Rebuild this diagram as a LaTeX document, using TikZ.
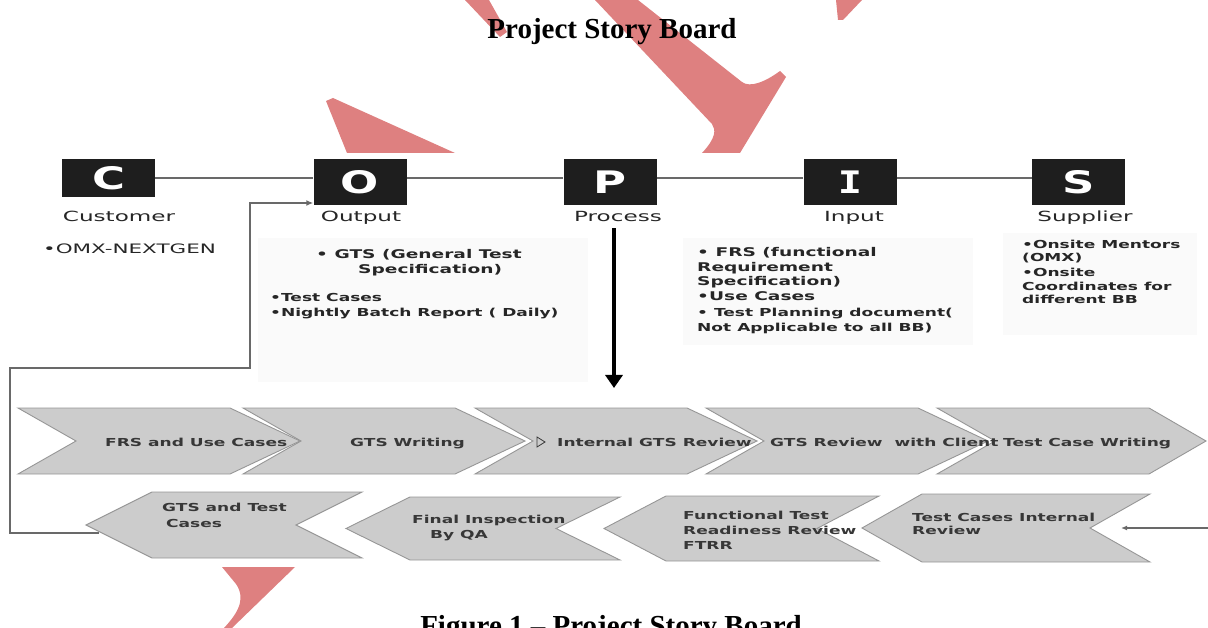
\documentclass[tikz,border=0pt]{standalone}
\usepackage{fontspec}
\setmainfont{Liberation Serif}
\newfontfamily\labf{DejaVu Sans}[FakeStretch=1.65]
\newfontfamily\txtf{DejaVu Sans}[FakeStretch=1.55]
\newfontfamily\letf{DejaVu Sans}[FakeStretch=1.45]
\newfontfamily\letm{DejaVu Sans Mono}[FakeStretch=1.3]
\usetikzlibrary{arrows.meta}
\definecolor{wmc}{RGB}{222,128,128}
\definecolor{boxc}{RGB}{30,30,30}
\definecolor{chevf}{RGB}{204,204,204}
\definecolor{chevd}{RGB}{150,150,150}
\definecolor{linec}{RGB}{105,105,105}
\definecolor{faint}{RGB}{250,250,250}
\definecolor{ctext}{RGB}{55,55,55}
\tikzset{
  wm/.style={fill=wmc, draw=none},
  faintbox/.style={fill=faint, draw=none},
  lbox/.style={fill=boxc, text=white, inner sep=0pt, minimum width=93pt, minimum height=46pt,
    font=\letf\bfseries\fontsize{31}{31}\selectfont},
  lab/.style={font=\labf\fontsize{14}{16}\selectfont, text=black!85, inner sep=0pt, anchor=base},
  treg/.style={font=\labf\fontsize{13}{15}\selectfont, text=black!85, inner sep=0pt, anchor=base west},
  tb/.style={font=\txtf\bfseries\fontsize{11}{13}\selectfont, text=black!85, inner sep=0pt, anchor=base west},
  tbl/.style={tb, font=\txtf\bfseries\fontsize{12}{14}\selectfont},
  ct/.style={tb, text=ctext},
  chev/.style={fill=chevf, draw=chevd, line width=0.9pt, line join=miter},
  conn/.style={draw=linec, line width=1.6pt},
  title/.style={font=\bfseries\fontsize{29}{34}\selectfont, inner sep=0pt, anchor=base},
}
% right-pointing chevron: name, left x, top y, bottom y, tip depth
\newcommand\chevR[5]{%
  \path[chev] (#2,#3) -- ({#2+212},#3) -- ({#2+212+#5},{(#3+#4)/2}) -- ({#2+212},#4) -- (#2,#4) -- ({#2+58},{(#3+#4)/2}) -- cycle;
  \coordinate (#1) at ({#2+106},{(#3+#4)/2});}
% left-pointing chevron: name, left x, right x, top y, bottom y, depth
\newcommand\chevL[6]{%
  \path[chev] (#2,#4) -- (#3,#4) -- ({#3-#6},{(#4+#5)/2}) -- (#3,#5) -- (#2,#5) -- ({#2-#6},{(#4+#5)/2}) -- cycle;
  \coordinate (#1-tip) at ({#2-#6},{(#4+#5)/2});
  \coordinate (#1-notch) at ({#3-#6},{(#4+#5)/2});}
\begin{document}
\begin{tikzpicture}[x=1pt,y=-1pt]
\useasboundingbox (0,0) rectangle (1208,628);
\clip (0,0) rectangle (1208,628);
% watermark pieces
\path[wm] (465,0) -- (489,0) -- (507,32) -- (500,37) -- cycle;
\path[wm] (595,0) -- (638,0) -- (742,82) .. controls (750,88) and (765,82) .. (780,71) -- (786,77) -- (740,153) -- (702,153) .. controls (716,138) and (716,130) .. (712,124) -- cycle;
\path[wm] (836,0) -- (862,0) -- (843,20) -- (838,20) -- cycle;
\path[wm] (326,101) -- (333,98) -- (455,153) -- (347,153) -- cycle;
\path[wm] (222,567) -- (295,567) -- (232,628) -- (224,628) .. controls (236,615) and (247,600) .. (236,584) -- cycle;
% faint text panels
\path[faintbox] (258,238) rectangle (588,382);
\path[faintbox] (683,238) rectangle (973,345);
\path[faintbox] (1003,233) rectangle (1197,335);
% title and caption
\node[title] (title) at (612,39) {Project Story Board};
\node[title] (caption) at (611,635) {Figure 1 -- Project Story Board};
% COPIS boxes
\node[lbox, minimum height=38pt] (C) at (108.5,178) {C};
\node[lbox] (O) at (360,182) {O};
\node[lbox] (P) at (610,182) {P};
\node[lbox, font=\letm\bfseries\fontsize{31}{31}\selectfont] (I) at (850,182) {I};
\node[lbox] (S) at (1078.5,182) {S};
\draw[conn, line width=2pt] (C.east) -- (C.east -| O.west);
\draw[conn, line width=2pt] (O.east |- C.east) -- (C.east -| P.west);
\draw[conn, line width=2pt] (P.east |- C.east) -- (C.east -| I.west);
\draw[conn, line width=2pt] (I.east |- C.east) -- (C.east -| S.west);
% labels
\node[lab] (Clab) at (119,222) {Customer};
\node[lab] (Olab) at (361,222) {Output};
\node[lab] (Plab) at (618,222) {Process};
\node[lab] (Ilab) at (854,222) {Input};
\node[lab] (Slab) at (1085,222) {Supplier};
% customer
\node[treg] (omx) at (43,254) {•OMX-NEXTGEN};
% output
\node[tbl] (o1) at (316,259) {• GTS (General Test};
\node[tbl] (o2) at (358,274) {Specification)};
\node[tb] (o3) at (270,302) {•Test Cases};
\node[tb] (o4) at (270,317) {•Nightly Batch Report ( Daily)};
% input
\node[tbl] (i1) at (697,257) {• FRS (functional};
\node[tbl] (i2) at (697,272) {Requirement};
\node[tbl] (i3) at (697,286) {Specification)};
\node[tbl] (i4) at (697,301) {•Use Cases};
\node[tb] (i5) at (697,317) {• Test Planning document(};
\node[tb] (i6) at (697,332) {Not Applicable to all BB)};
% supplier
\node[tb] (s1) at (1022,249) {•Onsite Mentors};
\node[tb] (s2) at (1022,262) {(OMX)};
\node[tb] (s3) at (1022,277) {•Onsite};
\node[tb] (s4) at (1022,291) {Coordinates for};
\node[tb] (s5) at (1022,304) {different BB};
% process arrow
\coordinate (ptip) at (614,388);
\draw[line width=3.5pt, -{Triangle[length=13pt,width=17pt]}] (Plab.south -| ptip) ++(0,6) -- (ptip);
% chevrons row 1
\chevR{r1}{18}{408}{474}{70}
\chevR{r2}{243}{408}{474}{70}
\chevR{r3}{475}{408}{474}{70}
\chevR{r4}{706}{408}{474}{70}
\chevR{r5}{937}{408}{474}{57}
% chevrons row 2
\chevL{A}{152}{362}{492}{558}{66}
\chevL{B}{410}{620}{497}{560}{64}
\chevL{Cc}{666}{879}{496}{561}{62}
\chevL{D}{922}{1150}{494}{562}{60}
% row 1 texts
\node[ct] (t1) at (105,446) {FRS and Use Cases};
\node[ct] (t2) at (350,446) {GTS Writing};
\draw[draw=ctext, line width=0.8pt] (537,437) -- (545,442) -- (537,447) -- cycle;
\node[ct] (t3) at (557,446) {Internal GTS Review};
\node[ct] (t4) at (770,446) {GTS Review~ with Client};
\node[ct] (t5) at (1003,446) {Test Case Writing};
% row 2 texts
\node[ct] (a1) at (162,511) {GTS and Test};
\node[ct] (a2) at (166,527) {Cases};
\node[ct] (b1) at (412,523) {Final Inspection};
\node[ct] (b2) at (430,538) {By QA};
\node[ct] (c1) at (683,519) {Functional Test};
\node[ct] (c2) at (683,534) {Readiness Review};
\node[ct] (c3) at (683,549) {FTRR};
\node[ct] (d1) at (912,521) {Test Cases Internal};
\node[ct] (d2) at (912,534) {Review};
% feedback connector from GTS and Test Cases to Output
\coordinate (Ain) at (99,533);
\coordinate (k1) at (10,533);
\coordinate (k2) at (10,368);
\coordinate (k3) at (250,368);
\coordinate (k4) at (250,203);
\draw[conn, -{Latex[length=7pt,width=6pt]}] (Ain) -- (k1) -- (k2) -- (k3) -- (k4) -- (k4 -| O.west);
% incoming arrow on the right
\coordinate (rin) at (1208,528);
\coordinate (Darr) at (1121,528);
\draw[conn, line width=1.2pt, -{Latex[length=6pt,width=5pt]}] (rin) -- (Darr);
\end{tikzpicture}
\end{document}
